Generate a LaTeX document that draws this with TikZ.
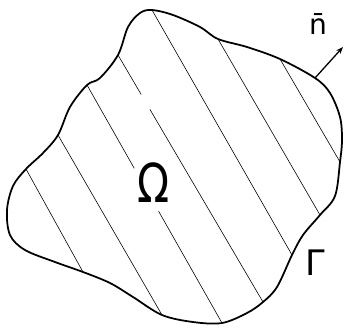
\documentclass[tikz,border=0pt]{standalone}
\usepackage{fontspec}
\setsansfont{DejaVu Sans}
\usepackage{graphicx}
\usepackage{tikz}
\usetikzlibrary{calc,arrows.meta}

\tikzset{
  hatch/.style={line width=0.5pt},
  boundary/.style={line width=1.5pt,line join=round},
  lbl/.style={font=\sffamily,inner sep=0pt}
}

\begin{document}
\begin{tikzpicture}[x=0.03cm,y=-0.03cm]
  \useasboundingbox (0,0) rectangle (344,328);
  % hatch end points on the boundary
  \coordinate (h1a) at (26,169);  \coordinate (h1b) at (83,272);
  \coordinate (h2a) at (58,135);  \coordinate (h2b) at (162,315);
  \coordinate (h3a) at (87,85);   \coordinate (h3b) at (222,323);
  \coordinate (h4a) at (118,55);  \coordinate (h4b) at (263,302);
  \coordinate (h5a) at (152,10);  \coordinate (h5b) at (292,255);
  \coordinate (h6a) at (218,39);  \coordinate (h6b) at (320,215);
  \coordinate (h7a) at (280,59);  \coordinate (h7b) at (340,162);
  \coordinate (nbase) at (315,78);
  \coordinate (ntip) at (343,47);
  % boundary Gamma
  \draw[boundary] plot[smooth cycle,tension=0.55] coordinates
    {(h5a)(173,15)(200,27)(h6a)(247,47)(h7a)(nbase)(330,93)(340,117)
     (342,140)(h7b)(335,196)(h6b)(303,235)(h5b)(277,287)(h4b)
     (247,313)(h3b)(193,322)(h2b)(133,297)(110,283)(h1b)(55,262)
     (25,250)(10,235)(7,210)(13,186)(h1a)(43,153)(h2a)(70,107)
     (h3a)(100,78)(h4a)(128,27)(140,13)};
  % hatching
  \draw[hatch] (h1a) -- (h1b);
  \draw[hatch] (h2a) -- (h2b);
  \draw[hatch] (h3a) -- ($(h3a)!0.35!(h3b)$) ($(h3a)!0.53!(h3b)$) -- (h3b);
  \draw[hatch] (h4a) -- ($(h4a)!0.16!(h4b)$) ($(h4a)!0.22!(h4b)$) -- (h4b);
  \draw[hatch] (h5a) -- (h5b);
  \draw[hatch] (h6a) -- (h6b);
  \draw[hatch] (h7a) -- (h7b);
  % outward normal
  \draw[line width=1.1pt,-{Stealth[length=6pt,width=4.5pt]}] (nbase) -- (ntip);
  % labels
  \node[lbl,font=\sffamily\fontsize{46}{46}\selectfont] (omega) at (154,183)
    {\scalebox{0.78}[1]{Ω}};
  \node[lbl,font=\sffamily\fontsize{30}{30}\selectfont] (gamma) at (315,263) {Γ};
  \node[lbl,font=\sffamily\fontsize{24}{24}\selectfont] (normal) at (318,24) {n̄};
\end{tikzpicture}
\end{document}
